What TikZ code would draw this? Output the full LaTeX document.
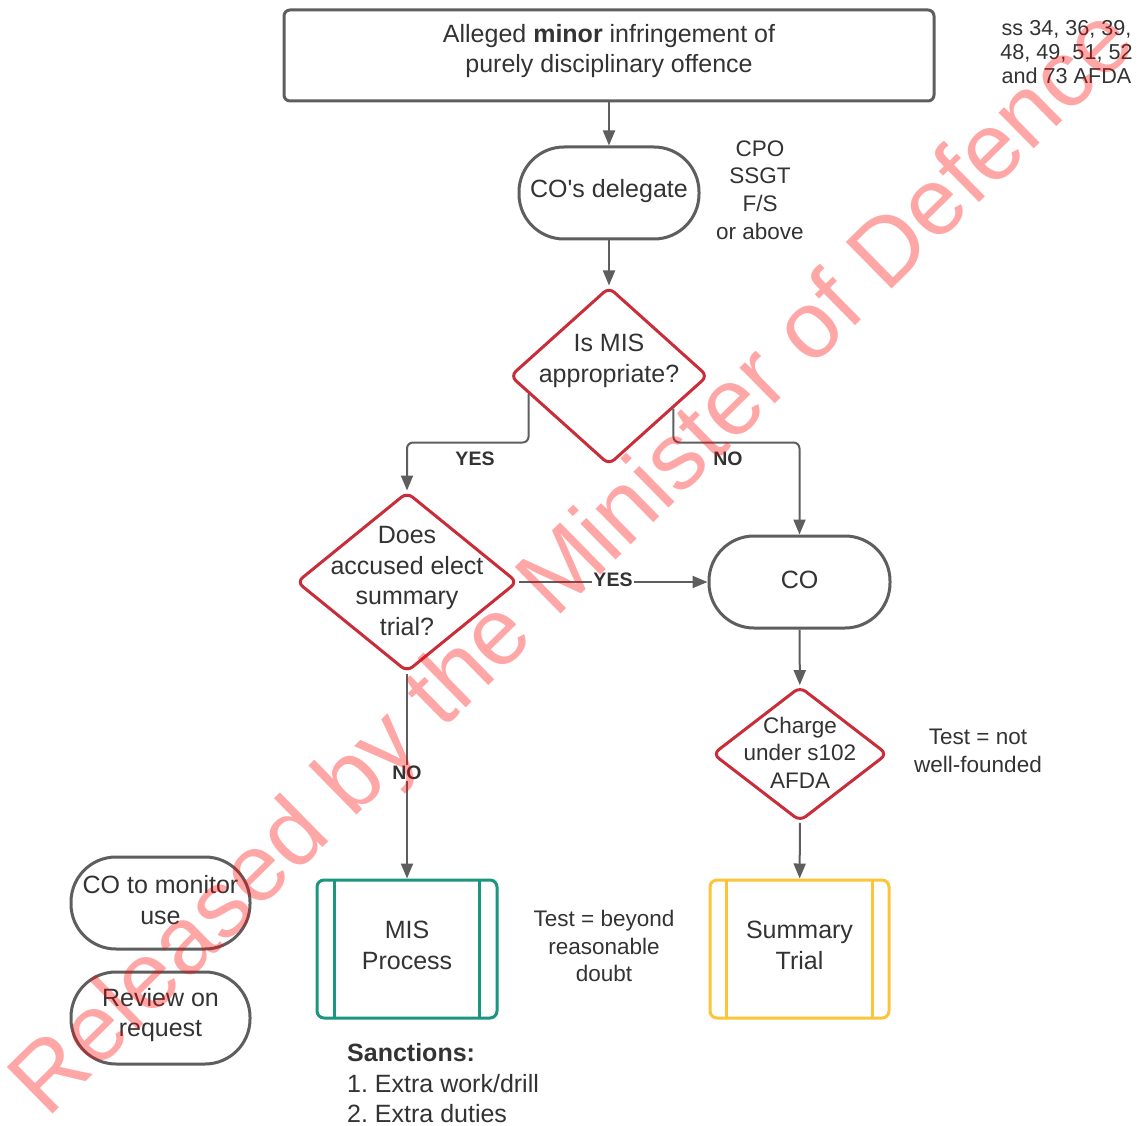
\documentclass[tikz,border=0pt]{standalone}
\usepackage{fontspec}
\setmainfont{Liberation Sans}[Ligatures=TeXOff]
\frenchspacing
\usetikzlibrary{arrows.meta,shapes.geometric,calc}
\definecolor{edgegray}{HTML}{5E5E5E}
\definecolor{txtgray}{HTML}{333333}
\definecolor{decred}{HTML}{C92D39}
\definecolor{misgreen}{HTML}{19967D}
\definecolor{stgold}{HTML}{FCC438}
\begin{document}
\begin{tikzpicture}[x=1pt,y=-1pt,
  base/.style={font=\fontsize{25}{30.5}\selectfont, text=txtgray, align=center, inner sep=0pt},
  side/.style={font=\fontsize{22.5}{27.6}\selectfont, text=txtgray, align=center, inner sep=0pt},
  graybox/.style={draw=edgegray, line width=3pt, rounded corners=6pt},
  stadium/.style={draw=edgegray, line width=3pt, rounded corners=45pt, minimum width=180pt, minimum height=92pt},
  decision/.style={diamond, draw=decred, line width=3pt, rounded corners=7pt, inner sep=0pt},
  procbox/.style={line width=3pt, rounded corners=7pt},
  arr/.style={draw=edgegray, line width=2pt, -{Triangle[length=15pt,width=12pt]}},
  lbl/.style={font=\fontsize{19.5}{22}\selectfont\bfseries, text=txtgray, fill=white, inner sep=1pt}
]
\useasboundingbox[fill=white] (0,0) rectangle (1138,1126);

% top box
\node[graybox, minimum width=650pt, minimum height=91pt] (top) at (609,55.5) {};
\node[base] (toptext) at (609,51) {Alleged \textbf{minor} infringement of\\purely disciplinary offence};

% CO's delegate
\node[stadium] (cod) at (609,193) {};
\node[base] (codtext) at (609,191) {CO's delegate};
\node[side] (rank) at (760,190) {CPO\\SSGT\\F/S\\or above};

% decision 1
\node[decision, minimum width=198pt, minimum height=178pt] (d1) at (609,376) {};
\node[base] (d1text) at (609,361) {Is MIS\\appropriate?};

% decision 2
\node[decision, minimum width=221pt, minimum height=180pt] (d2) at (407,582) {};
\node[base] (d2text) at (407,581) {Does\\accused elect\\summary\\trial?};

% CO
\node[stadium, minimum width=181pt] (co) at (799.5,582) {};
\node[base] (cotext) at (799.5,580) {CO};

% decision 3
\node[decision, minimum width=175pt, minimum height=135pt] (d3) at (800,754) {};
\node[base, font=\fontsize{22.5}{27.6}\selectfont] (d3text) at (800,752.5) {Charge\\under s102\\AFDA};
\node[side] (test1) at (978,751) {Test = not\\well-founded};

% MIS process
\node[procbox, draw=misgreen, minimum width=180pt, minimum height=138pt] (mis) at (407,949) {};
\draw[misgreen, line width=3pt] ($(mis.north west)+(19,1.5)$) -- ($(mis.south west)+(19,-1.5)$);
\draw[misgreen, line width=3pt] ($(mis.north east)+(-19,1.5)$) -- ($(mis.south east)+(-19,-1.5)$);
\node[base] (mistext) at (407,945.5) {MIS\\Process};
\node[side] (test2) at (604,946) {Test = beyond\\reasonable\\doubt};

% Summary trial
\node[procbox, draw=stgold, minimum width=179pt, minimum height=138pt] (st) at (799.5,949) {};
\draw[stgold, line width=3pt] ($(st.north west)+(18,1.5)$) -- ($(st.south west)+(18,-1.5)$);
\draw[stgold, line width=3pt] ($(st.north east)+(-18,1.5)$) -- ($(st.south east)+(-18,-1.5)$);
\node[base] (sttext) at (799.5,945.5) {Summary\\Trial};

% left stadiums
\node[stadium, minimum width=179pt] (mon) at (160.5,903) {};
\node[base] (montext) at (160.5,900) {CO to monitor\\use};
\node[stadium, minimum width=179pt] (rev) at (160.5,1018) {};
\node[base] (revtext) at (160.5,1015) {Review on\\request};

% sanctions
\node[base, anchor=west, align=left] (sanc) at (347,1083.5) {\textbf{Sanctions:}\\1. Extra work/drill\\2. Extra duties};

% statute reference
\node[base, font=\fontsize{21.6}{24}\selectfont] (ss) at (1066.5,52) {ss 34, 36, 39,\\48, 49, 51, 52\\and 73 AFDA};

% connectors
\draw[arr] (top) -- (cod);
\draw[arr] (cod) -- (d1);
\draw[arr, rounded corners=6pt] ($(d1.west)!0.2!(d1.south)$) |- ($(d2.north)+(0,-48)$) -- (d2.north);
\draw[arr, rounded corners=6pt] ($(d1.east)!0.36!(d1.south)$) |- ($(co.north)+(0,-92)$) -- (co.north);
\draw[arr] (d2.east) -- (co.west);
\draw[arr] (d2.south) -- (mis.north);
\draw[arr] (co) -- (d3);
\draw[arr] (d3) -- (st);

\node[lbl] (yes1) at (475,459) {YES};
\node[lbl] (no1) at (728,459) {NO};
\node[lbl] (yes2) at (613,580) {YES};
\node[lbl] (no2) at (407,773) {NO};

% watermark
\node[rotate=44.5, font=\fontsize{95}{95}\selectfont, text=red, opacity=0.35, inner sep=0pt] (wm) at (576,565) {Released by the Minister of Defence};
\end{tikzpicture}
\end{document}
